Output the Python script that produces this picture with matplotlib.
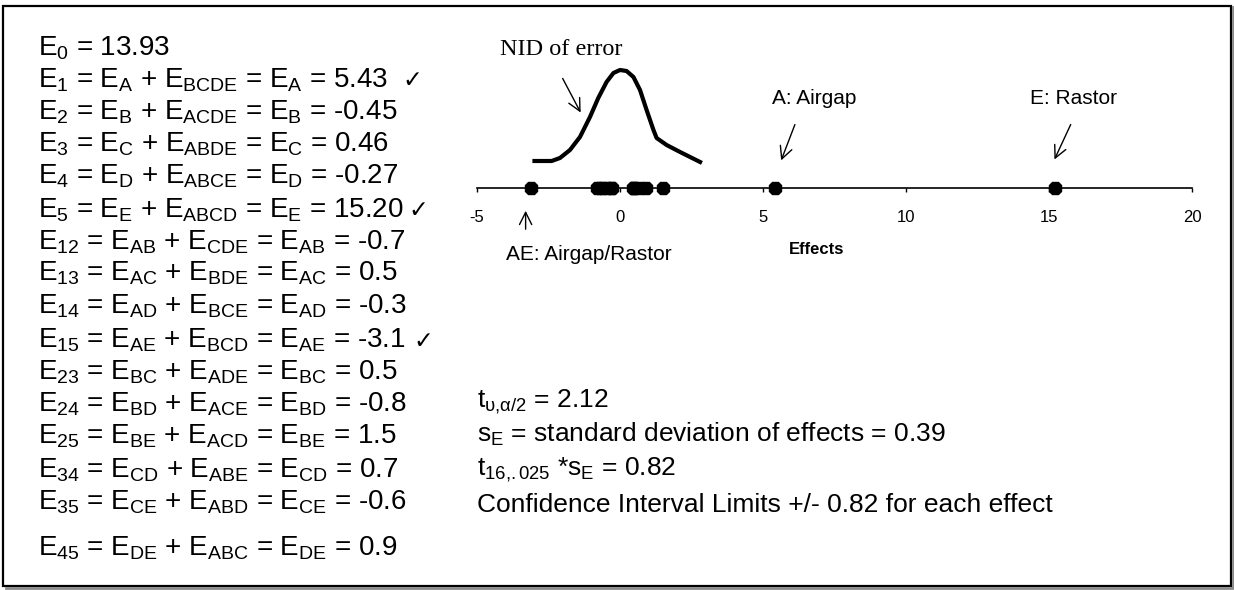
import matplotlib
matplotlib.use("Agg")
import matplotlib.pyplot as plt
from matplotlib.patches import Rectangle
from matplotlib.lines import Line2D

plt.rcParams['font.family'] = ['Liberation Sans', 'DejaVu Sans']
plt.rcParams['mathtext.fontset'] = 'custom'
plt.rcParams['mathtext.rm'] = 'Liberation Sans'
plt.rcParams['mathtext.it'] = 'Liberation Sans:italic'
plt.rcParams['mathtext.default'] = 'regular'
plt.rcParams['axes.unicode_minus'] = False

# effect estimates (everything except E0)
effect_names = ['A', 'B', 'C', 'D', 'E', 'AB', 'AC', 'AD', 'AE', 'BC', 'BD', 'BE', 'CD', 'CE', 'DE']
effects = [5.43, -0.45, 0.46, -0.27, 15.20, -0.7, 0.5, -0.3, -3.1, 0.5, -0.8, 1.5, 0.7, -0.6, 0.9]

# hand drawn "NID of error" curve above the axis
curve_x = [-2.99, -2.39, -2.10, -1.75, -1.40, -1.05, -0.76, -0.47, -0.23, 0.0,
           0.23, 0.47, 0.70, 0.93, 1.17, 1.28, 1.63, 2.10, 2.45, 2.80]
curve_y = [0.27, 0.27, 0.30, 0.38, 0.51, 0.71, 0.90, 1.06, 1.15, 1.18,
           1.17, 1.11, 0.98, 0.78, 0.58, 0.50, 0.43, 0.36, 0.31, 0.26]

ticks = [-5, 0, 5, 10, 15, 20]

# left column of alias equations
left_lines = [
    'E$_0$ = 13.93',
    'E$_1$ = E$_A$ + E$_{BCDE}$ = E$_A$ = 5.43',
    'E$_2$ = E$_B$ + E$_{ACDE}$ = E$_B$ = -0.45',
    'E$_3$ = E$_C$ + E$_{ABDE}$ = E$_C$ = 0.46',
    'E$_4$ = E$_D$ + E$_{ABCE}$ = E$_D$ = -0.27',
    'E$_5$ = E$_E$ + E$_{ABCD}$ = E$_E$ = 15.20',
    'E$_{12}$ = E$_{AB}$ + E$_{CDE}$ = E$_{AB}$ = -0.7',
    'E$_{13}$ = E$_{AC}$ + E$_{BDE}$ = E$_{AC}$ = 0.5',
    'E$_{14}$ = E$_{AD}$ + E$_{BCE}$ = E$_{AD}$ = -0.3',
    'E$_{15}$ = E$_{AE}$ + E$_{BCD}$ = E$_{AE}$ = -3.1',
    'E$_{23}$ = E$_{BC}$ + E$_{ADE}$ = E$_{BC}$ = 0.5',
    'E$_{24}$ = E$_{BD}$ + E$_{ACE}$ = E$_{BD}$ = -0.8',
    'E$_{25}$ = E$_{BE}$ + E$_{ACD}$ = E$_{BE}$ = 1.5',
    'E$_{34}$ = E$_{CD}$ + E$_{ABE}$ = E$_{CD}$ = 0.7',
    'E$_{35}$ = E$_{CE}$ + E$_{ABD}$ = E$_{CE}$ = -0.6',
    'E$_{45}$ = E$_{DE}$ + E$_{ABC}$ = E$_{DE}$ = 0.9',
]
line_base = [55, 87, 119, 151, 183, 217, 249, 281, 313, 348, 380, 412, 444, 477, 509, 555]
checked = [1, 5, 9]
check_gap = [14, 5, 8]

right_lines = [
    't$_{\u03c5{,}\u03b1/2}$ = 2.12',
    's$_E$ = standard deviation of effects = 0.39',
    't$_{16{,}.025}$ *s$_E$ = 0.82',
    'Confidence Interval Limits +/- 0.82 for each effect',
]
right_base = [407, 442, 475, 512]

W, H = 1234, 590
fig = plt.figure(figsize=(W / 100, H / 100), dpi=100)


def fx(x):
    return x / W


def fy(y):
    return 1 - y / H


# frame, with a grey shadow on the right and bottom edges
fig.lines.append(Line2D([fx(6), fx(1233), fx(1233)], [fy(588), fy(588), fy(7)],
                        transform=fig.transFigure, color='#8a8a8a', linewidth=2))
fig.patches.append(Rectangle((fx(3), fy(586)), fx(1228), 580 / H, transform=fig.transFigure,
                             fill=False, edgecolor='black', linewidth=1.6))

renderer = fig.canvas.get_renderer()
left_texts = []
for txt, y in zip(left_lines, line_base):
    left_texts.append(fig.text(fx(38), fy(y), txt, fontsize=20, va='baseline', ha='left'))
for i, gap in zip(checked, check_gap):
    end = left_texts[i].get_window_extent(renderer).x1
    fig.text((end + gap) / W, fy(line_base[i]), '\u2713', fontsize=17, va='baseline',
             ha='left', family='DejaVu Sans')

for txt, y in zip(right_lines, right_base):
    fig.text(fx(477), fy(y), txt, fontsize=19, va='baseline', ha='left')

# number line of effects
ax = fig.add_axes([fx(477), fy(240), fx(1192) - fx(477), 180 / H])
ax.set_xlim(-5, 20)
ax.set_ylim(-0.52, 1.28)
for s in ['top', 'left', 'right']:
    ax.spines[s].set_visible(False)
ax.spines['bottom'].set_position(('data', 0))
ax.spines['bottom'].set_linewidth(1.2)
ax.set_yticks([])
ax.set_xticks(ticks)
ax.tick_params(axis='x', length=3, width=1, pad=13, labelsize=12)
ax.patch.set_alpha(0)

ax.plot(effects, [0] * len(effects), linestyle='none', marker='8', markersize=9.5,
        color='black', clip_on=False)
ax.plot(curve_x, curve_y, color='black', linewidth=3, clip_on=False)

ax.set_xlabel('Effects', fontsize=12, fontweight='bold')
ax.xaxis.set_label_coords(0.475, -0.01)

arrow = dict(arrowstyle='->', color='black', lw=1, mutation_scale=22)
ax.text(-4.2, 1.33, 'NID of error', fontsize=17.5, family='Liberation Serif',
        ha='left', va='baseline')
ax.annotate('', xy=(-1.33, 0.73), xytext=(-2.05, 1.12), arrowprops=arrow, annotation_clip=False)

ax.text(6.8, 0.84, 'A: Airgap', fontsize=15, ha='center', va='baseline')
ax.annotate('', xy=(5.6, 0.25), xytext=(6.15, 0.66), arrowprops=arrow, annotation_clip=False)
ax.text(15.85, 0.84, 'E: Rastor', fontsize=15, ha='center', va='baseline')
ax.annotate('', xy=(15.15, 0.26), xytext=(15.8, 0.66), arrowprops=arrow, annotation_clip=False)

ax.annotate('', xy=(-3.3, -0.2), xytext=(-3.3, -0.44), arrowprops=arrow, annotation_clip=False)
ax.text(-4.0, -0.67, 'AE: Airgap/Rastor', fontsize=15, ha='left', va='center')

fig.savefig('out.png', dpi=100)
